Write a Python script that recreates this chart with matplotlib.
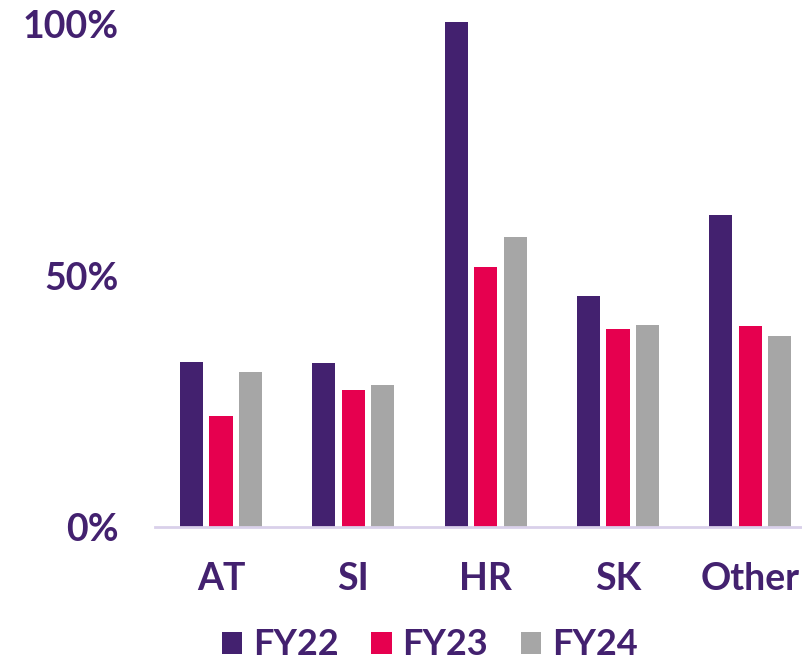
import matplotlib
matplotlib.use('Agg')
import matplotlib.pyplot as plt
import numpy as np

# data
categories = ['AT', 'SI', 'HR', 'SK', 'Other']
fy22 = [32.9, 32.7, 100.4, 45.9, 62.0]
fy23 = [22.0, 27.2, 51.8, 39.4, 39.9]
fy24 = [30.9, 28.2, 57.6, 40.1, 37.9]
series = ['FY22', 'FY23', 'FY24']
colors = ['#43216F', '#E6004F', '#A6A6A6']
text_color = '#43216F'

plt.rcParams['font.family'] = ['Lato', 'DejaVu Sans']
plt.rcParams['font.weight'] = 'bold'

fig = plt.figure(figsize=(8.02, 6.62), dpi=100)
ax = fig.add_axes([0.193, 0.204, 0.807, 0.767])

x = np.arange(len(categories))
w = 0.175
step = 0.223
for k, vals in enumerate([fy22, fy23, fy24]):
    ax.bar(x + (k - 1) * step, vals, width=w, color=colors[k], label=series[k], zorder=2)

ax.set_xlim(-0.5, 4.39)
ax.set_ylim(0, 101)
ax.set_yticks([0, 50, 100])
ax.set_yticklabels(['0%', '50%', '100%'])
ax.set_xticks(x)
ax.set_xticklabels(categories)

for s in ['top', 'right', 'left']:
    ax.spines[s].set_visible(False)
ax.spines['bottom'].set_color('#D9D0EA')
ax.spines['bottom'].set_linewidth(2)
ax.spines['bottom'].set_zorder(3)

ax.tick_params(axis='y', length=0, pad=26, labelsize=27, labelcolor=text_color)
ax.tick_params(axis='x', length=0, pad=25, labelsize=27, labelcolor=text_color)
for lbl in ax.get_xticklabels() + ax.get_yticklabels():
    lbl.set_fontweight('bold')

leg = fig.legend(loc='center', bbox_to_anchor=(0.536, 0.026), ncol=3, frameon=False,
                 fontsize=26, handlelength=0.56, handleheight=0.56,
                 handletextpad=0.3, columnspacing=0.9, borderaxespad=0)
for t in leg.get_texts():
    t.set_color(text_color)
    t.set_fontweight('bold')

plt.savefig('out.png', dpi=100)
plt.close()
